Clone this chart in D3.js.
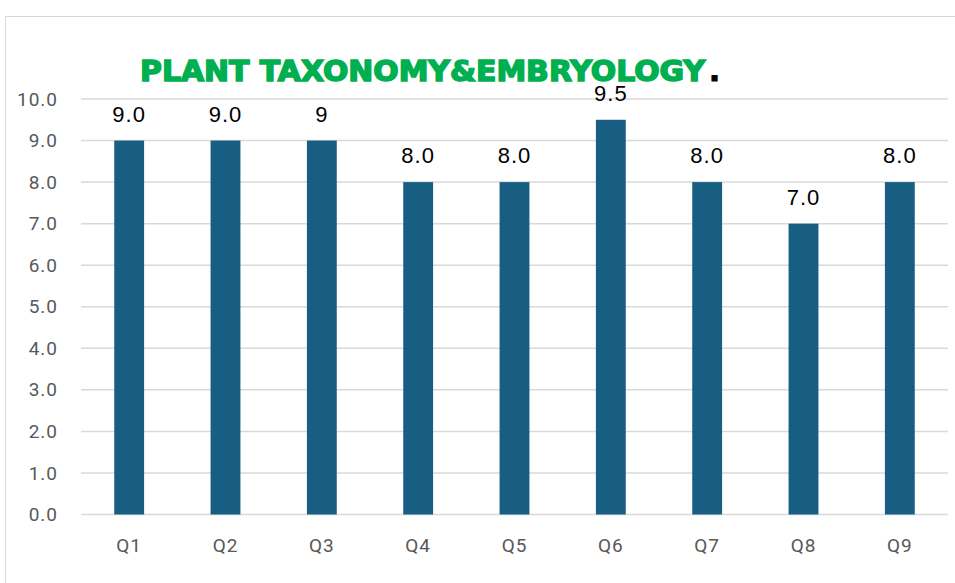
<!DOCTYPE html>
<html>
<head>
<meta charset="utf-8">
<script src="https://cdn.jsdelivr.net/npm/d3@7"></script>
<style>
  body { margin: 0; background: #fff; }
  svg { display: block; }
</style>
</head>
<body>
<div id="chart"></div>
<script>
// data
var categories = ["Q1", "Q2", "Q3", "Q4", "Q5", "Q6", "Q7", "Q8", "Q9"];
var scores = [9.0, 9.0, 9.0, 8.0, 8.0, 9.5, 8.0, 7.0, 8.0];
var valueLabels = ["9.0", "9.0", "9", "8.0", "8.0", "9.5", "8.0", "7.0", "8.0"];
var yTicks = [0, 1, 2, 3, 4, 5, 6, 7, 8, 9, 10];

var svgWidth = 955;
var svgHeight = 583;

var margin = { top: 99, right: 7, bottom: 68.5, left: 81 };
var width = svgWidth - margin.left - margin.right;
var height = svgHeight - margin.top - margin.bottom;

var svg = d3.select("#chart")
  .append("svg")
  .attr("width", svgWidth)
  .attr("height", svgHeight);

// chart area border
svg.append("rect")
  .attr("x", 5.5)
  .attr("y", 16.5)
  .attr("width", 960)
  .attr("height", 600)
  .attr("fill", "none")
  .attr("stroke", "#d9d9d9")
  .attr("stroke-width", 1);

var g = svg.append("g")
  .attr("transform", `translate(${margin.left}, ${margin.top})`);

var x = d3.scaleBand()
  .domain(categories)
  .range([0, width])
  .paddingInner(0.69)
  .paddingOuter(0.345);

var y = d3.scaleLinear()
  .domain([0, 10])
  .range([height, 0]);

// gridlines
g.selectAll(".grid")
  .data(yTicks)
  .enter()
  .append("line")
  .attr("x1", 0)
  .attr("x2", width)
  .attr("y1", d => y(d))
  .attr("y2", d => y(d))
  .attr("stroke", "#d9d9d9")
  .attr("stroke-width", 1.5);

// y axis labels
var yAxis = d3.axisLeft(y)
  .tickValues(yTicks)
  .tickFormat(d3.format(".1f"))
  .tickSize(0)
  .tickPadding(23);

g.append("g")
  .call(yAxis)
  .call(a => a.select(".domain").remove())
  .selectAll("text")
  .attr("fill", "#595959")
  .style("font-family", "Roboto, 'Liberation Sans', sans-serif")
  .style("font-size", "19px")
  .style("letter-spacing", "1px");

// x axis labels
var xAxis = d3.axisBottom(x)
  .tickSize(0)
  .tickPadding(24);

g.append("g")
  .attr("transform", `translate(0, ${height})`)
  .call(xAxis)
  .call(a => a.select(".domain").remove())
  .selectAll("text")
  .attr("fill", "#595959")
  .style("font-family", "Roboto, 'Liberation Sans', sans-serif")
  .style("font-size", "19px")
  .style("letter-spacing", "1px");

// bars
g.selectAll(".bar")
  .data(scores)
  .enter()
  .append("rect")
  .attr("x", (d, i) => x(categories[i]))
  .attr("y", d => y(d))
  .attr("width", x.bandwidth())
  .attr("height", d => height - y(d))
  .attr("fill", "#175e82");

// value labels
g.selectAll(".val")
  .data(scores)
  .enter()
  .append("text")
  .attr("x", (d, i) => x(categories[i]) + x.bandwidth() / 2)
  .attr("y", d => y(d) - 19)
  .attr("text-anchor", "middle")
  .attr("fill", "#000")
  .style("font-family", "'Liberation Sans', Arial, sans-serif")
  .style("font-size", "22px")
  .style("letter-spacing", "1px")
  .text((d, i) => valueLabels[i]);

// title (heavy, condensed look)
svg.append("text")
  .attr("x", 140)
  .attr("y", 81)
  .attr("textLength", 565)
  .attr("lengthAdjust", "spacingAndGlyphs")
  .attr("fill", "#00b050")
  .attr("stroke", "#00b050")
  .attr("stroke-width", 1.6)
  .style("font-family", "'DejaVu Sans', sans-serif")
  .style("font-weight", "bold")
  .style("font-size", "29px")
  .text("PLANT TAXONOMY&EMBRYOLOGY");

svg.append("text")
  .attr("x", 709)
  .attr("y", 81)
  .attr("fill", "#000")
  .attr("stroke", "#000")
  .attr("stroke-width", 1)
  .style("font-family", "'DejaVu Sans', sans-serif")
  .style("font-weight", "bold")
  .style("font-size", "29px")
  .text(".");
</script>
</body>
</html>
